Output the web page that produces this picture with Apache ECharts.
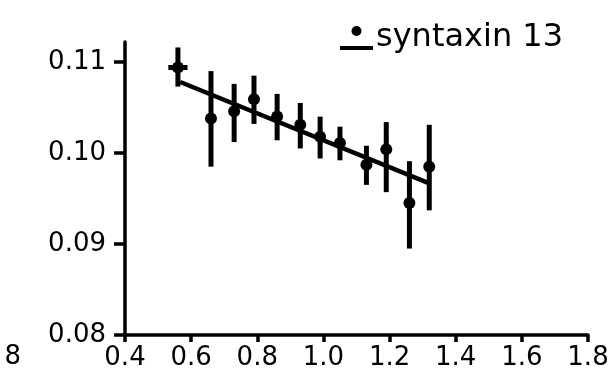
<!DOCTYPE html>
<html>
<head>
<meta charset="utf-8">
<script src="https://cdn.jsdelivr.net/npm/echarts@6.0.0/dist/echarts.min.js"></script>
<style>
  html, body { margin: 0; padding: 0; background: #fff; }
  #chart { width: 614px; height: 383px; }
</style>
</head>
<body>
<div id="chart"></div>
<script>
// values
const xVals = [0.56, 0.66, 0.73, 0.79, 0.86, 0.93, 0.99, 1.05, 1.13, 1.19, 1.26, 1.32];
const meanVals = [0.1094, 0.1038, 0.1046, 0.1059, 0.1040, 0.1031, 0.1018, 0.1011, 0.0987, 0.1004, 0.0945, 0.0985];
const errLow = [0.1073, 0.0985, 0.1012, 0.1032, 0.1014, 0.1005, 0.0994, 0.0992, 0.0965, 0.0957, 0.0895, 0.0937];
const errHigh = [0.1116, 0.1090, 0.1076, 0.1085, 0.1065, 0.1055, 0.1040, 0.1029, 0.1008, 0.1034, 0.0991, 0.1031];
const xErr = [0.029, 0, 0, 0, 0, 0, 0, 0, 0, 0, 0, 0];
const fitX = [0.567, 1.324];
const fitY = [0.1078, 0.0966];
const yTicks = [0.08, 0.09, 0.10, 0.11];
const seriesName = 'syntaxin 13';

const font = 'DejaVu Sans';
const chart = echarts.init(document.getElementById('chart'));

const points = xVals.map((x, i) => [x, meanVals[i]]);
const bars = xVals.map((x, i) => [x, errLow[i], errHigh[i], meanVals[i], xErr[i]]);

// legend icon: dot above a short line
const legendIcon = 'path://M0,20 L33,20 L33,24 L0,24 Z M21.5,5 A5,5 0 1,1 11.5,5 A5,5 0 1,1 21.5,5 Z';

chart.setOption({
  backgroundColor: '#fff',
  animation: false,
  textStyle: { fontFamily: font },
  grid: { left: 125, right: 26, top: 42, bottom: 48 },
  legend: {
    left: 335,
    top: 17,
    itemWidth: 33,
    itemHeight: 24,
    itemGap: 0,
    textStyle: { fontSize: 32, color: '#000', fontFamily: font, padding: [6, 0, 0, -2] },
    data: [{ name: seriesName, icon: legendIcon, itemStyle: { color: '#000', opacity: 1 } }]
  },
  xAxis: {
    type: 'value',
    min: 0.4,
    max: 1.8,
    interval: 0.2,
    splitLine: { show: false },
    axisLine: { lineStyle: { color: '#000', width: 3.5 } },
    axisTick: { length: 7, lineStyle: { color: '#000', width: 3.5 } },
    axisLabel: {
      margin: 10,
      fontSize: 26,
      color: '#000',
      fontFamily: font,
      formatter: v => v.toFixed(1)
    }
  },
  yAxis: {
    type: 'value',
    min: 0.08,
    max: 0.1122,
    splitLine: { show: false },
    axisLine: { show: true, lineStyle: { color: '#000', width: 3.5 } },
    axisTick: { show: true, length: 11, customValues: yTicks, lineStyle: { color: '#000', width: 3.5 } },
    axisLabel: {
      margin: 19,
      fontSize: 26,
      color: '#000',
      fontFamily: font,
      customValues: yTicks,
      formatter: v => v.toFixed(2)
    }
  },
  // clipped tick label of the neighbouring panel at the far left
  graphic: [{
    type: 'text',
    right: 593,
    top: 344,
    style: { text: '8', fontSize: 26, fill: '#000', fontFamily: font }
  }],
  series: [
    {
      type: 'custom',
      name: 'err',
      data: bars,
      z: 3,
      renderItem: (params, api) => {
        const x = api.value(0);
        const lo = api.coord([x, api.value(1)]);
        const hi = api.coord([x, api.value(2)]);
        const children = [{
          type: 'line',
          shape: { x1: lo[0], y1: lo[1], x2: hi[0], y2: hi[1] },
          style: { stroke: '#000', lineWidth: 5 }
        }];
        const dx = api.value(4);
        if (dx > 0) {
          const y = api.value(3);
          const a = api.coord([x - dx, y]);
          const b = api.coord([x + dx, y]);
          children.push({
            type: 'line',
            shape: { x1: a[0], y1: a[1], x2: b[0], y2: b[1] },
            style: { stroke: '#000', lineWidth: 5 }
          });
        }
        return { type: 'group', children };
      }
    },
    {
      type: 'line',
      name: 'fit',
      data: fitX.map((x, i) => [x, fitY[i]]),
      showSymbol: false,
      lineStyle: { color: '#000', width: 4.5 },
      z: 2
    },
    {
      type: 'scatter',
      name: seriesName,
      data: points,
      symbol: 'circle',
      symbolSize: 12,
      itemStyle: { color: '#000', opacity: 1 },
      z: 4
    }
  ]
});
</script>
</body>
</html>
